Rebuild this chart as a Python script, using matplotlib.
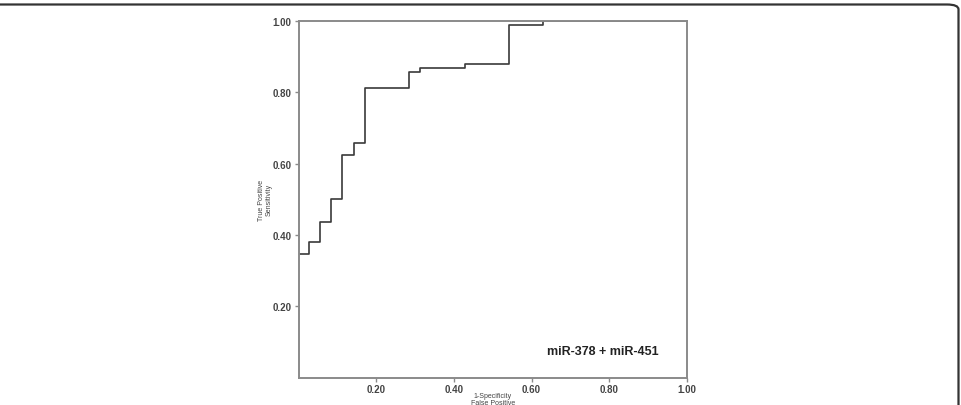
import matplotlib
matplotlib.use("Agg")
import matplotlib.pyplot as plt
from matplotlib.patches import FancyBboxPatch

plt.rcParams['font.family'] = ['Liberation Sans', 'DejaVu Sans']

fpr = [0.0, 0.027, 0.055, 0.084, 0.112, 0.142, 0.171, 0.285, 0.313, 0.429, 0.543, 0.63, 1.0]
tpr = [0.347, 0.38, 0.436, 0.502, 0.625, 0.657, 0.812, 0.857, 0.868, 0.880, 0.99, 1.0, 1.0]
x_ticks = [0.2, 0.4, 0.6, 0.8, 1.0]
y_ticks = [0.2, 0.4, 0.6, 0.8, 1.0]
tick_labels_x = ["0.20", "0.40", "0.60", "0.80", "1.00"]
tick_labels_y = ["0.20", "0.40", "0.60", "0.80", "1.00"]
label_text = "miR-378 + miR-451"

fig = plt.figure(figsize=(9.61, 4.06), dpi=100)

# outer rounded frame (left/bottom edges outside the canvas)
frame = FancyBboxPatch((-0.05, -0.2), 0.05 + 958.5 / 961, 0.2 + (406 - 5.5) / 406,
                       boxstyle="round,pad=0,rounding_size=0.012",
                       transform=fig.transFigure, fill=False,
                       edgecolor='#333333', linewidth=1.6, clip_on=False)
fig.patches.append(frame)

ax = fig.add_axes([298.5 / 961, 27.4 / 406, 388.5 / 961, 356.6 / 406])
ax.plot(fpr, tpr, drawstyle='steps-post', color='#3a3a3a', linewidth=1.2, zorder=2)
ax.set_xlim(0, 1)
ax.set_ylim(0, 1)
ax.set_xticks(x_ticks)
ax.set_xticklabels(tick_labels_x)
ax.set_yticks(y_ticks)
ax.set_yticklabels(tick_labels_y)
for s in ax.spines.values():
    s.set_color('#8a8a8a')
    s.set_linewidth(1.4)
    s.set_zorder(3)
ax.tick_params(axis='both', direction='out', length=3, width=1, color='#8a8a8a',
               labelsize=7, labelcolor='#444444', pad=2)
ax.tick_params(axis='x', pad=1.5)
for t in ax.get_xticklabels() + ax.get_yticklabels():
    t.set_fontweight('bold')

ax.text(0.784, 0.0746, label_text, transform=ax.transAxes, ha='center', va='center',
        fontsize=9, fontweight='bold', color='#222222')

fig.text(492.75 / 961, 1 - 393 / 406, "1-Specificity\nFalse Positive", ha='center', va='top',
         fontsize=5, color='#444444', linespacing=1.1)
fig.text(265 / 961, 1 - 200 / 406, "True Positive\nSensitivity", ha='center', va='center',
         rotation=90, fontsize=5, color='#444444', linespacing=1.1)

fig.savefig("out.png", dpi=100)
